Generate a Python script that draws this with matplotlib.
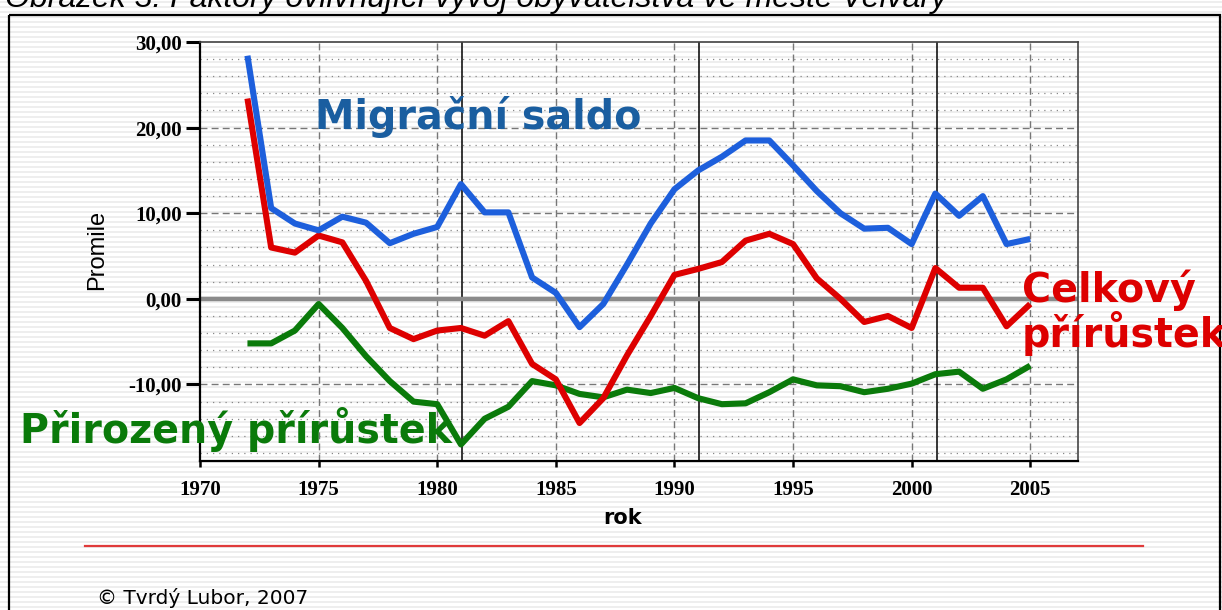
import numpy as np
import matplotlib.pyplot as plt

# data (promile)
roky = list(range(1972, 2006))
migracni = [28.4, 10.6, 8.8, 8.0, 9.6, 8.9, 6.5, 7.6, 8.4, 13.4,
            10.1, 10.1, 2.5, 0.7, -3.3, -0.6, 4.0, 8.8, 12.8, 15.0,
            16.6, 18.5, 18.5, 15.6, 12.6, 10.0, 8.2, 8.3, 6.4, 12.3,
            9.7, 12.0, 6.4, 7.0]
celkovy = [23.4, 6.0, 5.4, 7.4, 6.6, 2.1, -3.4, -4.7, -3.7, -3.4,
           -4.3, -2.6, -7.6, -9.4, -14.5, -11.6, -6.6, -2.0, 2.8, 3.5,
           4.3, 6.8, 7.6, 6.4, 2.4, 0.0, -2.7, -2.0, -3.4, 3.6,
           1.3, 1.3, -3.2, -0.6]
prirozeny = [-5.2, -5.2, -3.7, -0.6, -3.4, -6.7, -9.6, -12.0, -12.3, -17.0,
             -14.0, -12.6, -9.6, -10.1, -11.1, -11.5, -10.6, -11.0, -10.4, -11.6,
             -12.3, -12.2, -10.9, -9.4, -10.1, -10.2, -10.9, -10.5, -9.9, -8.8,
             -8.5, -10.5, -9.4, -7.8]
scitani = [1981.05, 1991.05, 2001.05]   # census years
x_ticks = [1970, 1975, 1980, 1985, 1990, 1995, 2000, 2005]
y_ticks = [-10, 0, 10, 20, 30]
y_labels = ['-10,00', '0,00', '10,00', '20,00', '30,00']

W, H = 1222, 610
fig = plt.figure(figsize=(W / 100, H / 100), dpi=100)

# striped background over the whole picture
bg = fig.add_axes([0, 0, 1, 1], zorder=-5)
bg.set_xlim(0, W)
bg.set_ylim(H, 0)
bg.axis('off')
bg.hlines(np.arange(2, H, 5), 0, W, color='#eeeeee', lw=1.4, zorder=1)
bg.add_patch(plt.Rectangle((9, 15), W - 11, H, fill=False, ec='black', lw=1.6, zorder=5))
bg.plot([85, 1143], [546, 546], color='#e03a3a', lw=1.6, zorder=5)

fig.text(5 / W, 1 - 7 / H, 'Obrázek 3: Faktory ovlivňující vývoj obyvatelstva ve městě Velvary',
         family='Liberation Sans', style='italic', fontsize=23, va='baseline', ha='left')

ax = fig.add_axes([200 / W, 1 - 460.7 / H, 877.7 / W, 418.7 / H])
ax.patch.set_alpha(0)
ax.set_xlim(1970, 2007)
ax.set_ylim(-18.9, 30)

# grid
for y in np.arange(-18, 30, 2):
    if y % 10 != 0:
        ax.axhline(y, color='#888888', lw=0.9, ls=(0, (1, 4)), zorder=1)
for y in [-10, 10, 20]:
    ax.axhline(y, color='#777777', lw=1.0, ls=(0, (5, 3)), zorder=1)
for x in x_ticks[1:]:
    ax.axvline(x, color='#777777', lw=1.0, ls=(0, (5, 3)), zorder=1)
for x in scitani:
    ax.axvline(x, color='black', lw=1.1, zorder=2)
ax.axhline(0, color='#8a8a8a', lw=3.2, zorder=2)

ax.plot(roky, prirozeny, color='#0a7a0a', lw=4.4, zorder=3, solid_capstyle='butt')
ax.plot(roky, celkovy, color='#dd0000', lw=4.4, zorder=4, solid_capstyle='butt')
ax.plot(roky, migracni, color='#1d5fdc', lw=4.4, zorder=5, solid_capstyle='butt')

for s in ['left', 'bottom']:
    ax.spines[s].set_linewidth(1.6)
for s in ['top', 'right']:
    ax.spines[s].set_linewidth(1.2)
    ax.spines[s].set_color('#444444')

ax.set_xticks(x_ticks)
ax.set_xticklabels([str(x) for x in x_ticks], family='Liberation Serif',
                   fontweight='bold', fontsize=15)
ax.set_yticks(y_ticks)
ax.set_yticklabels(y_labels, family='Liberation Serif', fontweight='bold', fontsize=15)
ax.tick_params(axis='y', length=10, width=2.2, pad=3)
ax.tick_params(axis='x', length=4, width=1.8, pad=10)

fig.text(97 / W, 1 - 250 / H, 'Promile', rotation=90, ha='center', va='center',
         family='Liberation Sans', fontsize=17)
fig.text(623 / W, 1 - 518 / H, 'rok', ha='center', va='center',
         family='DejaVu Sans', fontweight='bold', fontsize=15)
fig.text(97 / W, 1 - 598 / H, '© Tvrdý Lubor, 2007', ha='left', va='center',
         family='DejaVu Sans', fontsize=14.5)

# series names
fig.text(315 / W, 1 - 117 / H, 'Migrační saldo', color='#1a5ea0', fontweight='bold',
         family='DejaVu Sans', fontsize=28.5, ha='left', va='center')
fig.text(20 / W, 1 - 430 / H, 'Přirozený přírůstek', color='#0a7a0a', fontweight='bold',
         family='DejaVu Sans', fontsize=28.5, ha='left', va='center')
fig.text(1022 / W, 1 - 290 / H, 'Celkový', color='#dd0000', fontweight='bold',
         family='DejaVu Sans', fontsize=28.5, ha='left', va='center')
fig.text(1022 / W, 1 - 333 / H, 'přírůstek', color='#dd0000', fontweight='bold',
         family='DejaVu Sans', fontsize=28.5, ha='left', va='center')

fig.savefig('out.png', dpi=100)
